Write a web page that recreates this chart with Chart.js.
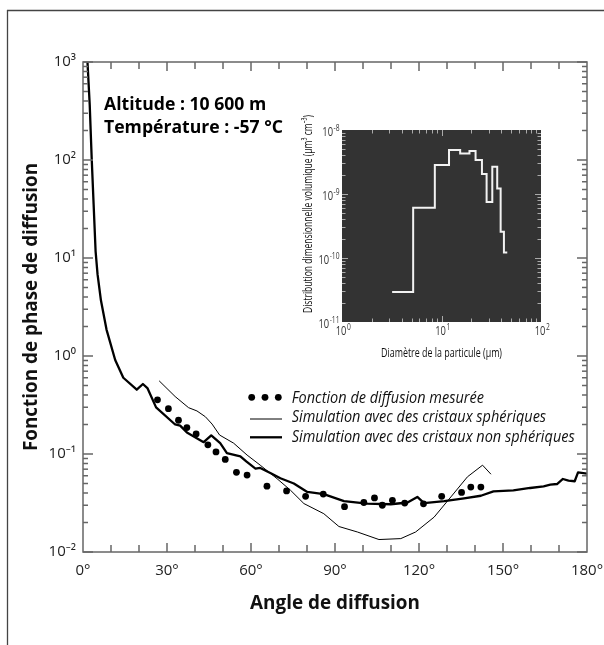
<!DOCTYPE html>
<html>
<head>
<meta charset="utf-8">
<script src="https://cdn.jsdelivr.net/npm/chart.js@4.4.1/dist/chart.umd.min.js"></script>
<style>
  html, body { margin: 0; padding: 0; background: #fff; }
  #wrap { position: relative; width: 604px; height: 645px; overflow: hidden; }
  #main { position: absolute; left: 0; top: 0; }
  #inset { position: absolute; left: 270px; top: 100px; }
</style>
</head>
<body>
<div id="wrap">
  <canvas id="main" width="604" height="645"></canvas>
  <canvas id="inset" width="290" height="270"></canvas>
</div>
<script>
// ---- data ----
const measAngles = [26.6, 30.5, 34.1, 37.1, 40.4, 44.6, 47.5, 50.8, 54.8, 58.6, 65.7, 72.7, 79.5, 85.8, 93.4, 100.3, 104.1, 106.9, 110.5, 114.9, 121.6, 128.1, 135.2, 138.5, 142.1];
const measValues = [0.357, 0.29, 0.221, 0.186, 0.16, 0.124, 0.105, 0.088, 0.065, 0.061, 0.047, 0.042, 0.037, 0.039, 0.029, 0.032, 0.0356, 0.030, 0.0337, 0.0316, 0.031, 0.037, 0.0405, 0.046, 0.046];

const sphAngles = [27.2, 32.9, 37.7, 40.7, 43.7, 46.1, 48.8, 53.8, 58.6, 63.3, 69.3, 74.1, 78.9, 86.0, 91.4, 98.0, 105.7, 113.5, 118.8, 125.4, 131.4, 137.3, 142.7, 145.7];
const sphValues = [0.558, 0.386, 0.297, 0.275, 0.24, 0.202, 0.156, 0.129, 0.0975, 0.0769, 0.056, 0.0427, 0.0312, 0.0246, 0.0182, 0.016, 0.0134, 0.0137, 0.016, 0.0227, 0.0365, 0.0585, 0.0769, 0.0622];

const nonSphAngles = [1.6, 2.4, 3.1, 3.8, 4.5, 5.2, 6.4, 8.4, 11.5, 14.4, 19.2, 21.4, 23.0, 26.1, 32.9, 34.7, 37.1, 43.1, 45.8, 49.0, 51.4, 56.2, 58.3, 61.6, 63.3, 66.9, 70.5, 75.3, 80.1, 86.0, 93.2, 101.5, 109.9, 115.9, 119.4, 121.8, 129.0, 136.1, 142.1, 146.6, 153.7, 159.7, 164.5, 166.9, 169.3, 171.4, 173.4, 175.6, 176.8, 180];
const nonSphValues = [1000, 366, 105, 35, 11.7, 6.8, 3.7, 1.86, 0.91, 0.60, 0.453, 0.518, 0.471, 0.299, 0.200, 0.195, 0.166, 0.132, 0.155, 0.129, 0.102, 0.0946, 0.084, 0.0708, 0.072, 0.064, 0.0565, 0.050, 0.041, 0.039, 0.033, 0.0312, 0.0307, 0.032, 0.0365, 0.0316, 0.033, 0.0353, 0.0375, 0.0416, 0.0425, 0.045, 0.0467, 0.0486, 0.0494, 0.0556, 0.0534, 0.0527, 0.0649, 0.063];

const xTickValues = [0, 30, 60, 90, 120, 150, 180];
const yTickValues = [1e-2, 1e-1, 1, 10, 100, 1000];

// inset: size distribution (bin edges in µm, value of the bin starting at that edge)
const binEdges = [3.19, 5.19, 8.57, 11.9, 15.4, 19.1, 22.0, 25.5, 28.4, 32.4, 36.3, 39.3, 42.4, 45.8];
const binValues = [2.95e-11, 6.1e-10, 2.83e-9, 4.86e-9, 4.31e-9, 4.69e-9, 3.39e-9, 2.05e-9, 7.47e-10, 2.67e-9, 1.22e-9, 2.56e-10, 1.22e-10, 1.22e-10];
const insetXTicks = [1, 10, 100];
const insetYTicks = [1e-11, 1e-10, 1e-9, 1e-8];

const legendLabels = ['Fonction de diffusion mesurée', 'Simulation avec des cristaux sphériques', 'Simulation avec des cristaux non sphériques'];
const infoLines = ['Altitude : 10 600 m', 'Température : -57 °C'];

const FAMILY = "'Open Sans', 'Noto Sans', 'DejaVu Sans', sans-serif";
const SUP = {'-': '⁻', '0': '⁰', '1': '¹', '2': '²', '3': '³', '4': '⁴', '5': '⁵', '6': '⁶', '7': '⁷', '8': '⁸', '9': '⁹'};
const sup = s => String(s).split('').map(c => SUP[c]).join('');

const mctx = document.createElement('canvas').getContext('2d');
function fitSize(text, font, base, target){
  mctx.font = font.replace('SIZE', base + 'px');
  return base * target / mctx.measureText(text).width;
}
const titleSize = fitSize('Angle de diffusion', 'bold SIZE ' + FAMILY, 16, 170);

// text squeezed horizontally (the original uses a narrow face)
function squeezed(ctx, text, x, y, font, sx, align){
  ctx.save();
  ctx.font = font;
  ctx.translate(x, y);
  ctx.scale(sx, 1);
  ctx.textAlign = align || 'left';
  ctx.fillText(text, 0, 0);
  ctx.restore();
}
function line(ctx, x1, y1, x2, y2){ ctx.beginPath(); ctx.moveTo(x1, y1); ctx.lineTo(x2, y2); ctx.stroke(); }

// "10" with a raised exponent; x is the anchor for the given alignment
function powerLabel(ctx, exp, x, y, size, sx, align){
  const f1 = size + 'px ' + FAMILY, f2 = (size * 0.72).toFixed(1) + 'px ' + FAMILY;
  ctx.font = f1; const w1 = ctx.measureText('10').width * sx;
  ctx.font = f2; const w2 = ctx.measureText(String(exp)).width * sx;
  let left = x;
  if (align === 'center') left = x - (w1 + w2) / 2;
  else if (align === 'right') left = x - (w1 + w2);
  squeezed(ctx, '10', left, y, f1, sx);
  squeezed(ctx, String(exp), left + w1 + 0.5, y - size * 0.42, f2, sx);
}

const mainDeco = {
  id: 'mainDeco',
  beforeDraw(c){
    const ctx = c.ctx;
    ctx.save();
    ctx.strokeStyle = '#444'; ctx.lineWidth = 1.3;
    line(ctx, 7, 10.5, 604, 10.5);
    line(ctx, 7.5, 10, 7.5, 645);
    ctx.restore();
  },
  afterDraw(c){
    const {ctx, chartArea: a, scales: {x, y}} = c;
    ctx.save();
    ctx.strokeStyle = '#666'; ctx.lineWidth = 1.5;
    ctx.strokeRect(a.left, a.top, a.right - a.left, a.bottom - a.top);
    for (let d = 10; d < 180; d += 10){
      const px = x.getPixelForValue(d), len = d % 30 === 0 ? 9 : 7;
      line(ctx, px, a.bottom, px, a.bottom - len);
      line(ctx, px, a.top, px, a.top + len);
    }
    for (let e = -2; e <= 3; e++){
      for (let m = 1; m <= 9; m++){
        if (e === 3 && m > 1) break;
        const py = y.getPixelForValue(m * Math.pow(10, e)), len = m === 1 ? 10 : 5;
        line(ctx, a.left, py, a.left + len, py);
        line(ctx, a.right, py, a.right - len, py);
      }
    }
    // info text
    ctx.fillStyle = '#000';
    const infoFont = 'bold 17.5px ' + FAMILY;
    ctx.font = infoFont;
    const sxInfo = 179 / ctx.measureText(infoLines[1]).width;
    squeezed(ctx, infoLines[0], 104, 109.5, infoFont, sxInfo);
    squeezed(ctx, infoLines[1], 104, 133, infoFont, sxInfo);
    // legend
    const legFont = 'italic 16.5px ' + FAMILY;
    ctx.font = legFont;
    const sxLeg = 283 / ctx.measureText(legendLabels[2]).width;
    [251.7, 265, 278.3].forEach(cx => { ctx.beginPath(); ctx.arc(cx, 397.3, 3.4, 0, Math.PI * 2); ctx.fill(); });
    ctx.strokeStyle = '#000';
    ctx.lineWidth = 1; line(ctx, 250, 419, 282, 419);
    ctx.lineWidth = 2.3; line(ctx, 250, 437.3, 282, 437.3);
    ctx.fillStyle = '#111';
    squeezed(ctx, legendLabels[0], 291.7, 402.5, legFont, sxLeg);
    squeezed(ctx, legendLabels[1], 291.7, 422, legFont, sxLeg);
    squeezed(ctx, legendLabels[2], 291.7, 441.5, legFont, sxLeg);
    ctx.restore();
  }
};

new Chart(document.getElementById('main'), {
  type: 'scatter',
  data: {
    datasets: [
      { label: legendLabels[1], data: sphAngles.map((a, i) => ({x: a, y: sphValues[i]})), showLine: true, borderColor: '#000', borderWidth: 1, pointRadius: 0, tension: 0 },
      { label: legendLabels[2], data: nonSphAngles.map((a, i) => ({x: a, y: nonSphValues[i]})), showLine: true, borderColor: '#000', borderWidth: 2.3, pointRadius: 0, tension: 0, borderJoinStyle: 'round' },
      { label: legendLabels[0], data: measAngles.map((a, i) => ({x: a, y: measValues[i]})), showLine: false, backgroundColor: '#000', borderWidth: 0, pointRadius: 3.4 }
    ]
  },
  options: {
    responsive: false, animation: false, devicePixelRatio: 1,
    layout: { padding: { left: 0, top: 62, right: 17, bottom: 0 } },
    plugins: { legend: { display: false }, tooltip: { enabled: false } },
    scales: {
      x: {
        type: 'linear', min: 0, max: 180,
        afterBuildTicks: s => { s.ticks = xTickValues.map(v => ({value: v})); },
        afterFit: s => { s.height = 93; s.paddingLeft = 0; s.paddingRight = 0; },
        grid: { display: false, drawTicks: false }, border: { display: false },
        ticks: { padding: 10, color: '#222', font: { family: FAMILY, size: 15 }, callback: v => v + '°' },
        title: { display: true, text: 'Angle de diffusion', color: '#111', font: { family: FAMILY, size: titleSize, weight: 'bold' }, padding: { top: 0, bottom: 30 } }
      },
      y: {
        type: 'logarithmic', min: 1e-2, max: 1e3,
        afterBuildTicks: s => { s.ticks = yTickValues.map(v => ({value: v})); },
        afterFit: s => { s.width = 83; s.paddingTop = 0; s.paddingBottom = 0; },
        grid: { display: false, drawTicks: false }, border: { display: false },
        ticks: { padding: 7, color: '#222', font: { family: FAMILY, size: 15 }, callback: v => '10' + sup(Math.round(Math.log10(v))) },
        title: { display: true, text: 'Fonction de phase de diffusion', color: '#111', font: { family: FAMILY, size: titleSize, weight: 'bold' }, padding: { top: 20, bottom: 0 } }
      }
    }
  },
  plugins: [mainDeco]
});

// ---- inset ----
const insetDeco = {
  id: 'insetDeco',
  beforeDatasetsDraw(c){
    const {ctx, chartArea: a} = c;
    ctx.save(); ctx.fillStyle = '#333';
    ctx.fillRect(a.left, a.top, a.right - a.left, a.bottom - a.top);
    ctx.restore();
  },
  afterDraw(c){
    const {ctx, chartArea: a, scales: {x, y}} = c;
    ctx.save();
    ctx.strokeStyle = '#aaa'; ctx.lineWidth = 1;
    for (let e = 0; e <= 1; e++){
      for (let m = 1; m <= 9; m++){
        if (m === 1 && e === 0) continue;
        const px = Math.round(x.getPixelForValue(m * Math.pow(10, e))) + 0.5, len = m === 1 ? 6 : 3.5;
        line(ctx, px, a.bottom, px, a.bottom - len);
        line(ctx, px, a.top, px, a.top + len);
      }
    }
    for (let e = -11; e <= -9; e++){
      for (let m = 1; m <= 9; m++){
        if (m === 1 && e === -11) continue;
        const py = Math.round(y.getPixelForValue(m * Math.pow(10, e))) + 0.5, len = m === 1 ? 6 : 3.5;
        line(ctx, a.left, py, a.left + len, py);
        line(ctx, a.right, py, a.right - len, py);
      }
    }
    ctx.fillStyle = '#333';
    const sx = 0.78;
    insetXTicks.forEach(v => {
      powerLabel(ctx, Math.round(Math.log10(v)), x.getPixelForValue(v) + 1, a.bottom + 13, 12, sx, 'center');
    });
    insetYTicks.forEach(v => {
      powerLabel(ctx, Math.round(Math.log10(v)), a.left - 3, y.getPixelForValue(v) + 6, 12, sx, 'right');
    });
    ctx.fillStyle = '#111';
    const tf = '12.5px ' + FAMILY;
    ctx.font = tf;
    const xt = 'Diamètre de la particule (µm)';
    squeezed(ctx, xt, (a.left + a.right) / 2, a.bottom + 35, tf, 121 / ctx.measureText(xt).width, 'center');
    const yt = 'Distribution dimensionnelle volumique (µm³ cm⁻³)';
    ctx.save();
    ctx.translate(42, 114);
    ctx.rotate(-Math.PI / 2);
    ctx.font = tf;
    squeezed(ctx, yt, 0, 0, tf, 198 / ctx.measureText(yt).width, 'center');
    ctx.restore();
    ctx.restore();
  }
};

new Chart(document.getElementById('inset'), {
  type: 'scatter',
  data: {
    datasets: [{ data: binEdges.map((d, i) => ({x: d, y: binValues[i]})), showLine: true, stepped: true, borderColor: '#f2f2f2', borderWidth: 2, pointRadius: 0 }]
  },
  options: {
    responsive: false, animation: false, devicePixelRatio: 1,
    layout: { padding: { left: 72, right: 19, top: 30, bottom: 48 } },
    plugins: { legend: { display: false }, tooltip: { enabled: false } },
    scales: {
      x: { type: 'logarithmic', min: 1, max: 100, display: false },
      y: { type: 'logarithmic', min: 1e-11, max: 1e-8, display: false }
    }
  },
  plugins: [insetDeco]
});
</script>
</body>
</html>
